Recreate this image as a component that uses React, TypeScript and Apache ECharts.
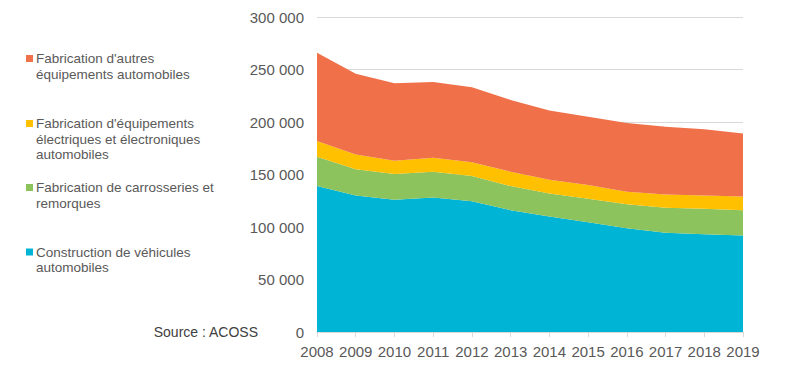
import React, { useEffect, useRef } from "react";
import * as echarts from "echarts";

const years = ["2008", "2009", "2010", "2011", "2012", "2013", "2014", "2015", "2016", "2017", "2018", "2019"];
const construction = [139000, 130000, 126000, 128000, 124500, 116000, 110000, 104500, 98700, 94600, 93000, 92000];
const carrosseries = [28000, 25000, 24500, 24700, 24100, 23000, 22000, 22500, 22900, 23800, 24400, 24000];
const electriques = [15000, 14000, 12500, 13300, 13000, 13700, 13000, 13000, 12000, 12600, 12600, 13000];
const autres = [84000, 77000, 74000, 72000, 71400, 68300, 66000, 65000, 65400, 64500, 63000, 60000];

const seriesNames = [
  "Construction de véhicules\nautomobiles",
  "Fabrication de carrosseries et\nremorques",
  "Fabrication d'équipements\nélectriques et électroniques\nautomobiles",
  "Fabrication d'autres\néquipements automobiles",
];
const colors = ["#00B4D6", "#8CC35C", "#FFC000", "#EF7049"];

const FONT = "'Liberation Sans', Arial, sans-serif";

export default function App() {
  const ref = useRef<HTMLDivElement>(null);
  useEffect(() => {
    const chart = echarts.init(ref.current!, null, { renderer: "svg" });
    const data = [construction, carrosseries, electriques, autres];
    const legendTops = [55, 120, 184, 248.5];
    const legendGraphics: any[] = [];
    [3, 2, 1, 0].forEach((si, i) => {
      legendGraphics.push({
        type: "rect",
        shape: { x: 26, y: legendTops[i], width: 7, height: 7 },
        style: { fill: colors[si] },
      });
      legendGraphics.push({
        type: "text",
        x: 36,
        y: legendTops[i] + 3.5 - 7.75,
        style: {
          text: seriesNames[si],
          fill: "#595959",
          font: `13.5px ${FONT}`,
          lineHeight: 15.5,
          verticalAlign: "top",
        },
      });
    });
    legendGraphics.push({
      type: "text",
      x: 258,
      y: 332,
      style: {
        text: "Source : ACOSS",
        fill: "#404040",
        font: `14px ${FONT}`,
        align: "right",
        verticalAlign: "middle",
      },
    });
    chart.setOption({
      animation: false,
      grid: { left: 317, right: 42, top: 17, bottom: 36, containLabel: false },
      xAxis: {
        type: "category",
        data: years,
        boundaryGap: false,
        axisLine: { lineStyle: { color: "#D9D9D9" } },
        axisTick: { show: true, alignWithLabel: true, interval: 0, length: 5, lineStyle: { color: "#D9D9D9" } },
        axisLabel: { color: "#595959", fontSize: 15, fontFamily: FONT, margin: 12, interval: 0 },
      },
      yAxis: {
        type: "value",
        min: 0,
        max: 300000,
        interval: 50000,
        axisLine: { show: false },
        axisTick: { show: false },
        splitLine: { lineStyle: { color: "#D9D9D9" } },
        axisLabel: {
          color: "#595959",
          fontSize: 15,
          fontFamily: FONT,
          margin: 13,
          formatter: (v: number) => String(v).replace(/\B(?=(\d{3})+(?!\d))/g, " "),
        },
      },
      series: data.map((d, i) => ({
        name: seriesNames[i],
        type: "line",
        stack: "total",
        data: d,
        symbol: "none",
        lineStyle: { width: 0 },
        areaStyle: { color: colors[i], opacity: 1 },
        itemStyle: { color: colors[i] },
      })),
      graphic: legendGraphics,
    });
    return () => chart.dispose();
  }, []);
  return <div ref={ref} style={{ width: 785, height: 368, position: "absolute", left: 0, top: 0, background: "#fff" }} />;
}
